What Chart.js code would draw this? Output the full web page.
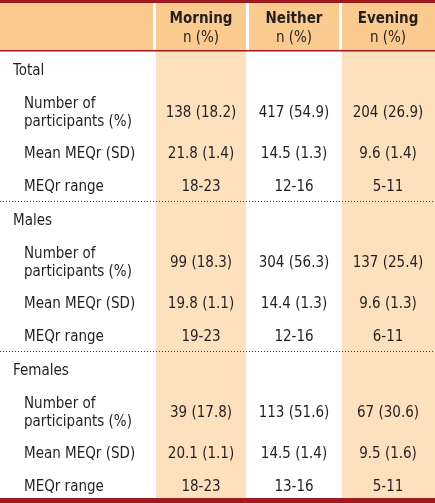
<!DOCTYPE html>
<html>
<head>
<meta charset="utf-8">
<script src="https://cdn.jsdelivr.net/npm/chart.js@4"></script>
<style>
  html, body { margin: 0; padding: 0; background: #fff; }
  canvas { display: block; }
</style>
</head>
<body>
<canvas id="table" width="435" height="503"></canvas>
<script>
const chronotypes = ["Morning", "Neither", "Evening"];
const headerSub = "n (%)";
const groups = ["Total", "Males", "Females"];
const measures = [["Number of", "participants (%)"], ["Mean MEQr (SD)"], ["MEQr range"]];

// one entry per group: Total, Males, Females
const morningN = ["138 (18.2)", "99 (18.3)", "39 (17.8)"];
const morningMean = ["21.8 (1.4)", "19.8 (1.1)", "20.1 (1.1)"];
const morningRange = ["18-23", "19-23", "18-23"];
const neitherN = ["417 (54.9)", "304 (56.3)", "113 (51.6)"];
const neitherMean = ["14.5 (1.3)", "14.4 (1.3)", "14.5 (1.4)"];
const neitherRange = ["12-16", "12-16", "13-16"];
const eveningN = ["204 (26.9)", "137 (25.4)", "67 (30.6)"];
const eveningMean = ["9.6 (1.4)", "9.6 (1.3)", "9.5 (1.6)"];
const eveningRange = ["5-11", "6-11", "5-11"];

// layout (table units = pixels of the original)
const W = 435, H = 503;
const colCenters = [201, 294, 388];
const shadedCols = [[156, 246], [342, 435]];
const headSeps = [[153, 156], [246, 249], [339, 342]];
const groupY = [69, 219, 369];
const valueOffsets = [42, 83, 116];
const labelOffsets = [[33, 51], [83], [116]];
const dottedY = [201.5, 351.5];

const red = "#9b1b1e";
const headOrange = "#fbca8e";
const bodyOrange = "#fde0bd";
const ink = "#231f20";
const FONT = '"Liberation Sans Narrow", "DejaVu Sans Condensed", "Arial Narrow", sans-serif';

const columns = [
    [morningN, morningMean, morningRange],
    [neitherN, neitherMean, neitherRange],
    [eveningN, eveningMean, eveningRange],
];

const datasets = columns.map((col, c) => {
    const data = [];
    groups.forEach((g, gi) => {
        col.forEach((arr, m) => {
            data.push({ x: colCenters[c], y: groupY[gi] + valueOffsets[m], text: arr[gi] });
        });
    });
    return { label: chronotypes[c], data: data, pointRadius: 0, showLine: false };
});

const tablePlugin = {
    id: "tablePlugin",
    beforeDatasetsDraw(chart) {
        const ctx = chart.ctx;
        const sx = chart.scales.x, sy = chart.scales.y;
        const rect = (x0, y0, x1, y1, color) => {
            const a = sx.getPixelForValue(x0), b = sx.getPixelForValue(x1);
            const c = sy.getPixelForValue(y0), d = sy.getPixelForValue(y1);
            ctx.fillStyle = color;
            ctx.fillRect(a, c, b - a, d - c);
        };
        ctx.save();
        rect(0, 0, W, H, "#ffffff");
        rect(0, 3, W, 51, headOrange);
        shadedCols.forEach(([a, b]) => rect(a, 51, b, 498, bodyOrange));
        headSeps.forEach(([a, b]) => rect(a, 3, b, 51, "#ffffff"));
        rect(0, 0, W, 3, red);
        rect(0, 50, W, 51.5, red);
        rect(0, 498, W, H, red);

        ctx.strokeStyle = "#3a3a3a";
        ctx.lineWidth = 1;
        ctx.setLineDash([1, 2]);
        dottedY.forEach(y => {
            const py = sy.getPixelForValue(y);
            ctx.beginPath();
            ctx.moveTo(sx.getPixelForValue(0), py);
            ctx.lineTo(sx.getPixelForValue(W), py);
            ctx.stroke();
        });
        ctx.restore();
    },
    afterDatasetsDraw(chart) {
        const ctx = chart.ctx;
        const sx = chart.scales.x, sy = chart.scales.y;
        ctx.save();
        ctx.fillStyle = ink;
        ctx.textBaseline = "alphabetic";

        // header
        ctx.textAlign = "center";
        chronotypes.forEach((name, c) => {
            const x = sx.getPixelForValue(colCenters[c]);
            ctx.font = "bold 15px " + FONT;
            ctx.fillText(name, x, sy.getPixelForValue(23));
            ctx.font = "15px " + FONT;
            ctx.fillText(headerSub, x, sy.getPixelForValue(42));
        });

        // row labels
        ctx.textAlign = "left";
        ctx.font = "15px " + FONT;
        groups.forEach((g, gi) => {
            ctx.fillText(g, sx.getPixelForValue(13), sy.getPixelForValue(groupY[gi] + 5.5));
            measures.forEach((lines, m) => {
                lines.forEach((line, li) => {
                    ctx.fillText(line, sx.getPixelForValue(24), sy.getPixelForValue(groupY[gi] + labelOffsets[m][li] + 5.5));
                });
            });
        });

        // values, placed at each dataset point
        ctx.textAlign = "center";
        chart.data.datasets.forEach((ds, i) => {
            const meta = chart.getDatasetMeta(i);
            meta.data.forEach((pt, j) => {
                ctx.fillText(ds.data[j].text, pt.x, pt.y + 5.5);
            });
        });
        ctx.restore();
    }
};

new Chart(document.getElementById("table"), {
    type: "scatter",
    data: { datasets: datasets },
    options: {
        responsive: false,
        animation: false,
        events: [],
        layout: { padding: 0 },
        plugins: { legend: { display: false }, tooltip: { enabled: false } },
        scales: {
            x: { type: "linear", min: 0, max: W, display: false },
            y: { type: "linear", min: 0, max: H, reverse: true, display: false },
        },
    },
    plugins: [tablePlugin],
});
</script>
</body>
</html>
